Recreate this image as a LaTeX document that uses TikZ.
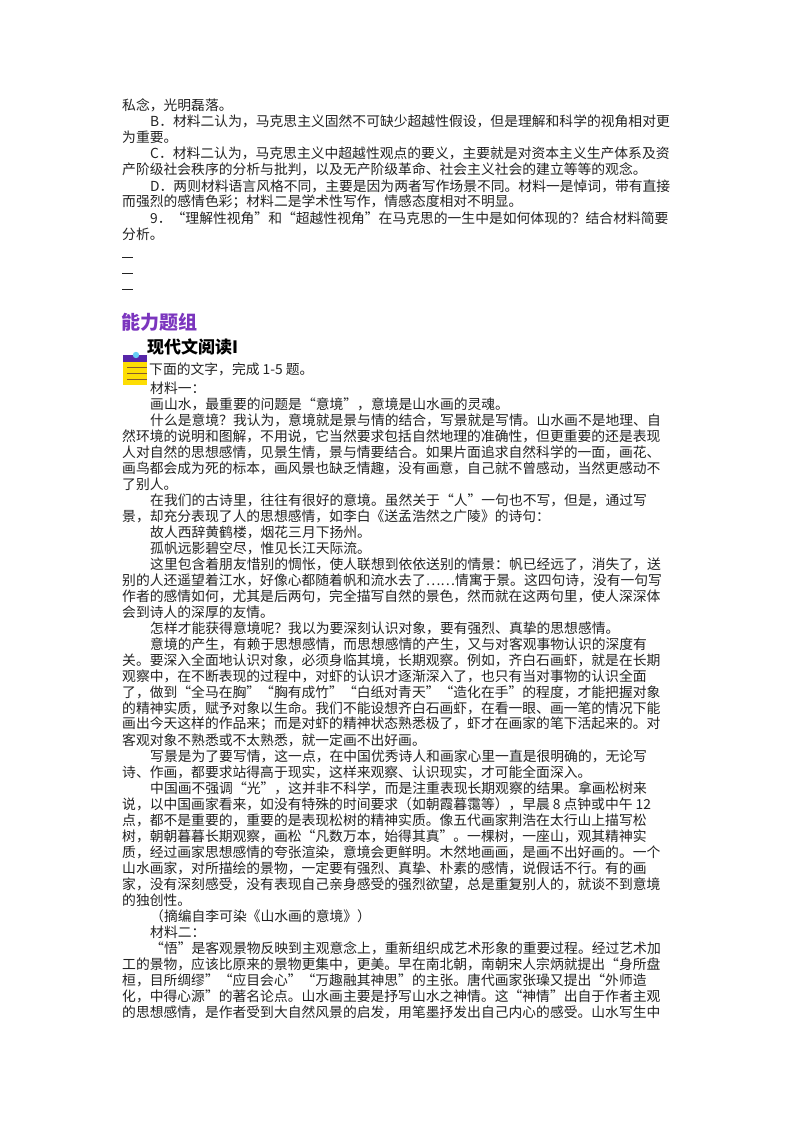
\documentclass[tikz,border=0pt]{standalone}
\usepackage{fontspec}
\setmainfont{Noto Sans CJK SC}
\XeTeXlinebreaklocale "zh"
\XeTeXlinebreakskip=0pt plus 4pt
\definecolor{txt}{HTML}{222222}
\definecolor{hdr}{HTML}{7B35BE}
\newcommand{\LnF}[4]{\node[txtline] (#1) at (#2,#3) {\makebox[\dimexpr 678pt-#2pt\relax][s]{#4}};}
\newcommand{\LnP}[4]{\node[txtline] (#1) at (#2,#3) {#4};}
\tikzset{txtline/.style={anchor=west,inner sep=0pt,text=txt,font=\fontsize{13.8pt}{16pt}\selectfont}}
\begin{document}
\begin{tikzpicture}[x=1pt,y=-1pt]
\useasboundingbox (0,0) rectangle (800,1132);
% block 1
\LnP{a0}{122}{105}{私念，光明磊落。}
\LnF{a1}{150}{121.2}{B．材料二认为，马克思主义固然不可缺少超越性假设，但是理解和科学的视角相对更}
\LnP{a2}{122}{137.4}{为重要。}
\LnF{a3}{150}{153.6}{C．材料二认为，马克思主义中超越性观点的要义，主要就是对资本主义生产体系及资}
\LnP{a4}{122}{169.8}{产阶级社会秩序的分析与批判，以及无产阶级革命、社会主义社会的建立等等的观念。}
\LnF{a5}{150}{186}{D．两则材料语言风格不同，主要是因为两者写作场景不同。材料一是悼词，带有直接}
\LnP{a6}{122}{202.2}{而强烈的感情色彩；材料二是学术性写作，情感态度相对不明显。}
\LnF{a7}{150}{218.4}{9．“理解性视角”和“超越性视角”在马克思的一生中是如何体现的？结合材料简要}
\LnP{a8}{122}{234.6}{分析。}
\draw[txt,line width=0.7pt] (122,257) -- (133,257) (122,273) -- (133,273) (122,289) -- (133,289);
% headers
\node[anchor=west,inner sep=0pt,text=hdr,font=\fontsize{19pt}{22pt}\selectfont\bfseries] (h1) at (121,322) {能力题组};
\node[anchor=west,inner sep=0pt,text=black,font=\fontsize{17pt}{20pt}\selectfont\bfseries] (h2) at (147,347) {现代文阅读I};
% icon
\fill[yellow!80!orange] (123,361) rectangle (147,385);
\fill[blue!45!violet!70!gray] (123,355) rectangle (147,362);
\foreach \yy in {367,373,379} \draw[brown!70!black,line width=0.8pt] (127,\yy) -- (147,\yy);
\fill[cyan!60] (136,355) circle (3.2);
% block 2
\LnP{bx}{149}{369}{下面的文字，完成 1-5 题。}
\LnP{b0}{150}{388}{材料一：}
\LnP{b1}{150}{404}{画山水，最重要的问题是“意境”，意境是山水画的灵魂。}
\LnF{b2}{150}{420}{什么是意境？我认为，意境就是景与情的结合，写景就是写情。山水画不是地理、自}
\LnF{b3}{122}{436}{然环境的说明和图解，不用说，它当然要求包括自然地理的准确性，但更重要的还是表现}
\LnF{b4}{122}{452}{人对自然的思想感情，见景生情，景与情要结合。如果片面追求自然科学的一面，画花、}
\LnF{b5}{122}{468}{画鸟都会成为死的标本，画风景也缺乏情趣，没有画意，自己就不曾感动，当然更感动不}
\LnP{b6}{122}{484}{了别人。}
\LnF{b7}{150}{500}{在我们的古诗里，往往有很好的意境。虽然关于“人”一句也不写，但是，通过写}
\LnP{b8}{122}{516}{景，却充分表现了人的思想感情，如李白《送孟浩然之广陵》的诗句：}
\LnP{b9}{150}{532}{故人西辞黄鹤楼，烟花三月下扬州。}
\LnP{b10}{150}{548}{孤帆远影碧空尽，惟见长江天际流。}
\LnF{b11}{150}{564}{这里包含着朋友惜别的惆怅，使人联想到依依送别的情景：帆已经远了，消失了，送}
\LnF{b12}{122}{580}{别的人还遥望着江水，好像心都随着帆和流水去了……情寓于景。这四句诗，没有一句写}
\LnF{b13}{122}{596}{作者的感情如何，尤其是后两句，完全描写自然的景色，然而就在这两句里，使人深深体}
\LnP{b14}{122}{612}{会到诗人的深厚的友情。}
\LnP{b15}{150}{628}{怎样才能获得意境呢？我以为要深刻认识对象，要有强烈、真挚的思想感情。}
\LnF{b16}{150}{644}{意境的产生，有赖于思想感情，而思想感情的产生，又与对客观事物认识的深度有}
\LnF{b17}{122}{660}{关。要深入全面地认识对象，必须身临其境，长期观察。例如，齐白石画虾，就是在长期}
\LnF{b18}{122}{676}{观察中，在不断表现的过程中，对虾的认识才逐渐深入了，也只有当对事物的认识全面}
\LnF{b19}{122}{692}{了，做到“全马在胸”“胸有成竹”“白纸对青天”“造化在手”的程度，才能把握对象}
\LnF{b20}{122}{708}{的精神实质，赋予对象以生命。我们不能设想齐白石画虾，在看一眼、画一笔的情况下能}
\LnF{b21}{122}{724}{画出今天这样的作品来；而是对虾的精神状态熟悉极了，虾才在画家的笔下活起来的。对}
\LnP{b22}{122}{740}{客观对象不熟悉或不太熟悉，就一定画不出好画。}
\LnF{b23}{150}{756}{写景是为了要写情，这一点，在中国优秀诗人和画家心里一直是很明确的，无论写}
\LnP{b24}{122}{772}{诗、作画，都要求站得高于现实，这样来观察、认识现实，才可能全面深入。}
\LnF{b25}{150}{788}{中国画不强调“光”，这并非不科学，而是注重表现长期观察的结果。拿画松树来}
\LnF{b26}{122}{804}{说，以中国画家看来，如没有特殊的时间要求（如朝霞暮霭等），早晨\kern3pt8\kern3pt点钟或中午\kern3pt12}
\LnF{b27}{122}{820}{点，都不是重要的，重要的是表现松树的精神实质。像五代画家荆浩在太行山上描写松}
\LnF{b28}{122}{836}{树，朝朝暮暮长期观察，画松“凡数万本，始得其真”。一棵树，一座山，观其精神实}
\LnF{b29}{122}{852}{质，经过画家思想感情的夸张渲染，意境会更鲜明。木然地画画，是画不出好画的。一个}
\LnF{b30}{122}{868}{山水画家，对所描绘的景物，一定要有强烈、真挚、朴素的感情，说假话不行。有的画}
\LnF{b31}{122}{884}{家，没有深刻感受，没有表现自己亲身感受的强烈欲望，总是重复别人的，就谈不到意境}
\LnP{b32}{122}{900}{的独创性。}
\LnP{b33}{150}{916}{（摘编自李可染《山水画的意境》）}
\LnP{b34}{150}{932}{材料二：}
\LnF{b35}{150}{948}{“悟”是客观景物反映到主观意念上，重新组织成艺术形象的重要过程。经过艺术加}
\LnF{b36}{122}{964}{工的景物，应该比原来的景物更集中，更美。早在南北朝，南朝宋人宗炳就提出“身所盘}
\LnF{b37}{122}{980}{桓，目所绸缪”“应目会心”“万趣融其神思”的主张。唐代画家张璪又提出“外师造}
\LnF{b38}{122}{996}{化，中得心源”的著名论点。山水画主要是抒写山水之神情。这“神情”出自于作者主观}
\LnF{b39}{122}{1012}{的思想感情，是作者受到大自然风景的启发，用笔墨抒发出自己内心的感受。山水写生中}
\end{tikzpicture}
\end{document}
